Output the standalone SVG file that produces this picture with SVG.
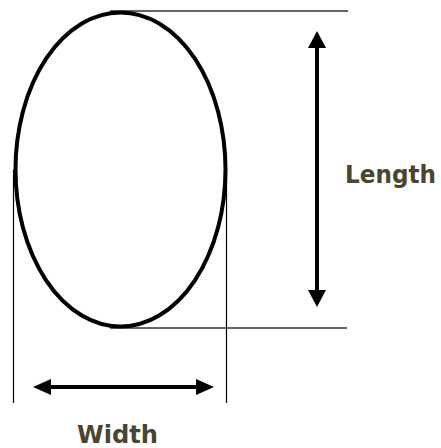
<svg xmlns="http://www.w3.org/2000/svg" width="441" height="448" viewBox="0 0 441 448">
<style>
.thin{stroke:#333;stroke-width:1.5;fill:none}
.vthin{stroke:#000;stroke-width:1.2;fill:none}
.shaft{stroke:#000;stroke-width:4;fill:none}
.head{fill:#000}
.lbl{font-family:"DejaVu Sans",Verdana,sans-serif;font-weight:bold;fill:#4a4530;font-size:24px}
</style>
<rect width="441" height="448" fill="#fff"/>
<g id="guides">
<line class="thin" x1="110" y1="11" x2="348" y2="11"/>
<line class="thin" x1="110" y1="328" x2="347" y2="328"/>
<line class="vthin" x1="13.5" y1="170" x2="13.5" y2="403"/>
<line class="vthin" x1="226.5" y1="170" x2="226.5" y2="403"/>
</g>
<g id="ellipse"><ellipse cx="120.5" cy="169.5" rx="105" ry="157" fill="none" stroke="#000" stroke-width="4"/></g>
<g id="connectors">
<line class="shaft" x1="317" y1="45" x2="317" y2="292"/>
<polygon class="head" points="317,31 308,48 326,48"/>
<polygon class="head" points="317,307 308,290 326,290"/>
<line class="shaft" x1="48" y1="387" x2="199" y2="387"/>
<polygon class="head" points="33,387 51,379 51,395"/>
<polygon class="head" points="214,387 196,379 196,395"/>
</g>
<g id="length"><text class="lbl" x="345" y="183" textLength="91" lengthAdjust="spacingAndGlyphs">Length</text></g>
<g id="width"><text class="lbl" x="77" y="443" textLength="81" lengthAdjust="spacingAndGlyphs">Width</text></g>
</svg>
